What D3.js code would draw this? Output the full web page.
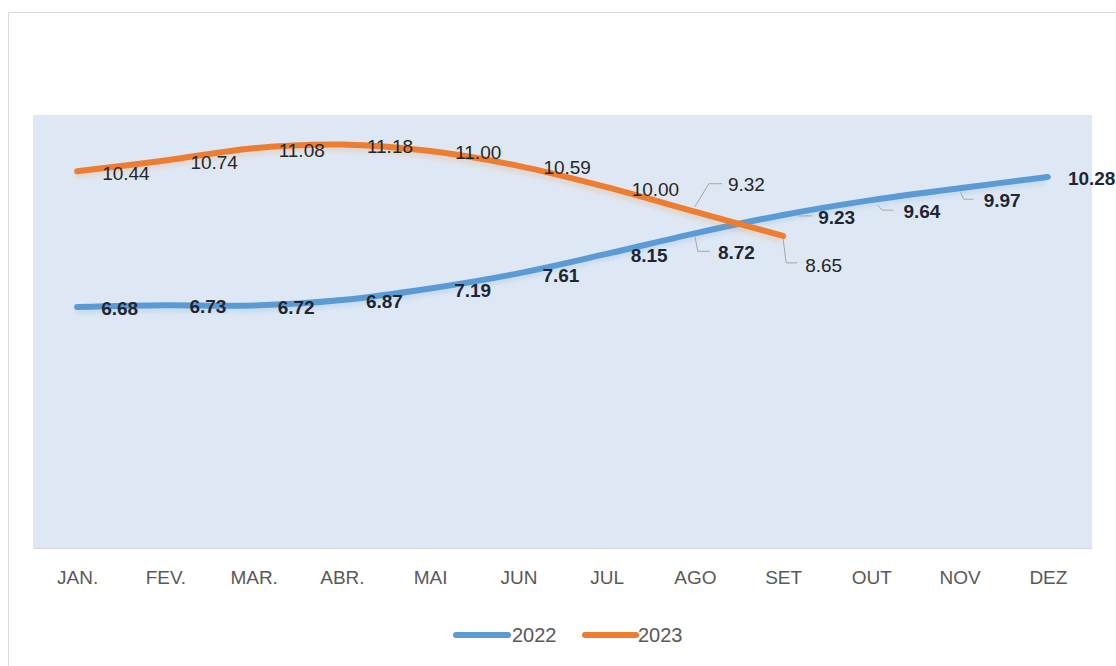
<!DOCTYPE html>
<html><head><meta charset="utf-8">
<script src="https://cdn.jsdelivr.net/npm/d3@7"></script>
<style>
html,body{margin:0;padding:0;background:#fff;}
svg{display:block;}
</style></head>
<body>
<script>
const months = ["JAN.","FEV.","MAR.","ABR.","MAI","JUN","JUL","AGO","SET","OUT","NOV","DEZ"];
const values2022 = [6.68, 6.73, 6.72, 6.87, 7.19, 7.61, 8.15, 8.72, 9.23, 9.64, 9.97, 10.28];
const values2023 = [10.44, 10.74, 11.08, 11.18, 11.00, 10.59, 10.00, 9.32, 8.65];
const seriesNames = ["2022", "2023"];
const yDomain = [0, 12];

// label layout (offsets from the point); leader = polyline offsets
const labelLayout2022 = {
  7: {dx: 23, dy: 19, leader: [[0,3],[3,18],[15,18]]},
  8: {dx: 35, dy: 2, leader: [[15,1],[29,1]]},
  9: {dx: 32, dy: 11, leader: [[6,5],[11,10],[22,10]]},
  10: {dx: 24, dy: 12, leader: [[1,4],[4,11],[14,11]]},
  11: {dx: 20, dy: 1.5}
};
const labelLayout2023 = {
  7: {dx: 33, dy: -28, leader: [[0,-5],[14,-28],[27,-28]]},
  8: {dx: 22, dy: 29, leader: [[0,3],[3,27],[14,27]]}
};

const W = 1116, H = 666;
const plot = {left: 33, right: 1092, top: 115, bottom: 548};
const colors = {"2022": "#5b9bd5", "2023": "#ed7d31"};

const svg = d3.select("body").append("svg").attr("width", W).attr("height", H);
svg.append("rect").attr("width", W).attr("height", H).attr("fill", "#fff");
// outer border
svg.append("path").attr("d", `M8.5,${H}V12.5H${W}`).attr("fill","none").attr("stroke","#d9d9d9").attr("stroke-width",1);

svg.append("rect").attr("x", plot.left).attr("y", plot.top)
  .attr("width", plot.right - plot.left).attr("height", plot.bottom - plot.top)
  .attr("fill", "#dee8f4");

const x = d3.scalePoint().domain(months).range([plot.left, plot.right]).padding(0.5);
const y = d3.scaleLinear().domain(yDomain).range([plot.bottom, plot.top]);

// x axis
const xAxis = d3.axisBottom(x).tickSize(0).tickPadding(29);
const gx = svg.append("g").attr("transform", `translate(0,${plot.bottom})`).call(xAxis);
gx.select(".domain").attr("stroke", "#d0d7e0");
gx.selectAll("text").attr("font-family", "'Liberation Sans', Arial, sans-serif")
  .attr("font-size", 19).attr("fill", "#595959").attr("dy", "0.36em");

const line = d3.line().x((d,i) => x(months[i])).y(d => y(d)).curve(d3.curveCardinal.tension(0));

const series = [
  {name: "2022", values: values2022, layout: labelLayout2022, bold: true},
  {name: "2023", values: values2023, layout: labelLayout2023, bold: false}
];

// soft shadow
const defs = svg.append("defs");
const f = defs.append("filter").attr("id","sh").attr("x","-5%").attr("y","-20%").attr("width","110%").attr("height","140%");
f.append("feGaussianBlur").attr("stdDeviation", 2);

series.forEach(s => {
  svg.append("path").datum(s.values).attr("d", line)
    .attr("fill","none").attr("stroke", colors[s.name]).attr("stroke-opacity",0.18)
    .attr("stroke-width", 6).attr("transform","translate(-2,4)").attr("filter","url(#sh)");
  svg.append("path").datum(s.values).attr("d", line)
    .attr("fill","none").attr("stroke", colors[s.name])
    .attr("stroke-width", 6).attr("stroke-linecap","round").attr("stroke-linejoin","round");
});

series.forEach(s => {
  const g = svg.append("g");
  s.values.forEach((v, i) => {
    const px = x(months[i]), py = y(v);
    const lay = s.layout[i] || {dx: s.bold ? 24 : 25, dy: 1.5};
    if (lay.leader) {
      g.append("polyline")
        .attr("points", lay.leader.map(p => [px + p[0], py + p[1]].join(",")).join(" "))
        .attr("fill","none").attr("stroke","#a6a6a6").attr("stroke-width",1);
    }
    g.append("text").attr("x", px + lay.dx).attr("y", py + lay.dy).attr("dy","0.36em")
      .attr("font-family", "'Liberation Sans', Arial, sans-serif")
      .attr("font-size", 19)
      .attr("font-weight", s.bold ? "bold" : "normal")
      .attr("fill", s.bold ? "#1f2633" : "#262626")
      .text(v.toFixed(2));
  });
});

// legend
const legend = svg.append("g");
const legendItems = [{name:"2022", x0: 456, x1: 508, tx: 512}, {name:"2023", x0: 585, x1: 636, tx: 638}];
legendItems.forEach(it => {
  legend.append("line").attr("x1", it.x0).attr("x2", it.x1).attr("y1", 635).attr("y2", 635)
    .attr("stroke", colors[it.name]).attr("stroke-width", 6).attr("stroke-linecap","round");
  legend.append("text").attr("x", it.tx).attr("y", 635).attr("dy","0.36em")
    .attr("font-family", "'Liberation Sans', Arial, sans-serif").attr("font-size", 20)
    .attr("fill", "#595959").text(it.name);
});
</script>
</body></html>
